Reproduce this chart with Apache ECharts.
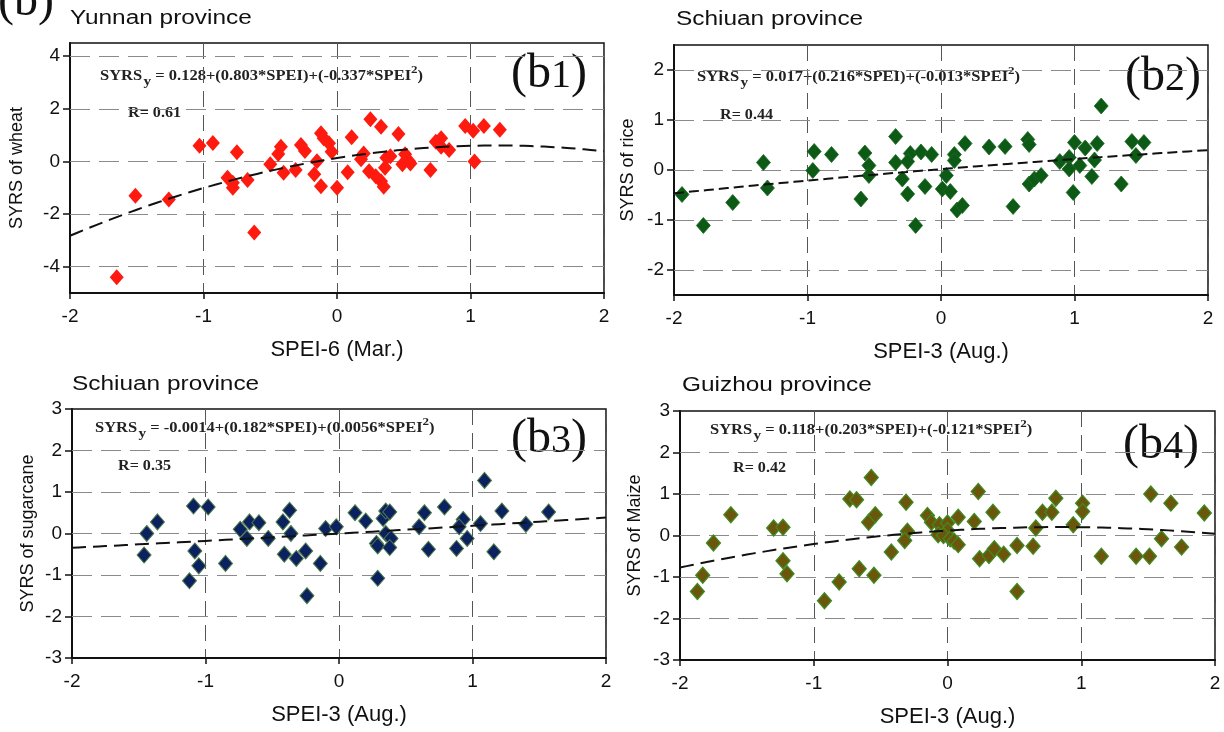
<!DOCTYPE html>
<html>
<head>
<meta charset="utf-8">
<script src="https://cdn.jsdelivr.net/npm/echarts@6/dist/echarts.min.js"></script>
<style>
  html, body { margin: 0; padding: 0; background: #fff; }
  #chart { width: 1224px; height: 732px; }
</style>
</head>
<body>
<div id="chart"></div>
<script>
// ---- Data: standardized yield residual series (SYRS) against SPEI ----
const wheatPoints = [
  [-1.65,-4.4],[-1.51,-1.3],[-1.26,-1.45],[-1.03,0.6],[-0.93,0.7],[-0.82,-0.62],[-0.78,-0.81],[-0.78,-1.0],
  [-0.75,0.35],[-0.67,-0.71],[-0.62,-2.7],[-0.50,-0.11],[-0.44,0.28],[-0.42,0.56],[-0.40,-0.43],[-0.31,-0.33],
  [-0.27,0.62],[-0.24,0.40],[-0.17,-0.49],[-0.15,0.01],[-0.12,1.07],[-0.12,-0.94],[-0.10,0.88],[-0.06,0.69],
  [-0.04,0.37],[0.00,-1.0],[0.08,-0.41],[0.11,0.92],[0.18,0.08],[0.20,0.3],[0.24,-0.37],[0.25,1.6],
  [0.29,-0.56],[0.33,1.32],[0.33,-0.75],[0.35,-0.96],[0.36,-0.24],[0.37,0.14],[0.40,0.2],[0.46,1.04],
  [0.49,-0.11],[0.51,0.27],[0.54,0.01],[0.55,-0.08],[0.70,-0.33],[0.74,0.75],[0.78,0.88],[0.78,0.56],
  [0.84,0.43],[0.96,1.35],[1.02,1.17],[1.03,0.0],[1.10,1.35],[1.22,1.2]
];
const ricePoints = [
  [1.20,1.28],[-0.34,0.67],[0.18,0.53],[0.36,0.46],[0.48,0.47],[0.65,0.61],[0.66,0.51],[1.00,0.55],
  [1.08,0.44],[1.17,0.53],[1.43,0.57],[1.52,0.55],[-0.95,0.37],[-0.82,0.31],[-0.57,0.34],[-0.23,0.33],
  [-0.15,0.36],[-0.07,0.31],[0.10,0.31],[-1.33,0.15],[-1.94,-0.49],[-1.78,-1.11],[-1.56,-0.65],[-1.30,-0.36],
  [-0.96,-0.01],[-0.60,-0.58],[-0.54,0.09],[-0.54,-0.11],[-0.34,0.15],[-0.29,-0.18],[-0.25,-0.48],[-0.25,0.17],
  [-0.19,-1.11],[-0.12,-0.33],[0.01,-0.38],[0.04,-0.11],[0.07,-0.43],[0.10,0.19],[0.12,-0.80],[0.16,-0.71],
  [0.54,-0.73],[0.66,-0.28],[0.70,-0.18],[0.75,-0.11],[0.89,0.17],[0.96,0.25],[0.96,0.02],[0.99,-0.45],
  [1.04,0.09],[1.13,-0.13],[1.15,0.20],[1.35,-0.28],[1.46,0.29]
];
const sugarcanePoints = [
  [1.09,1.28],[-1.09,0.66],[-0.98,0.64],[-1.36,0.28],[-1.44,0.0],[-0.74,0.1],[-0.67,0.28],[-0.60,0.26],
  [-0.69,-0.12],[-0.53,-0.12],[-0.42,0.28],[-0.37,0.56],[-0.36,0.0],[-0.10,0.12],[-0.02,0.16],[0.12,0.50],
  [0.20,0.30],[0.33,0.36],[0.35,0.54],[0.38,0.52],[0.28,-0.24],[0.35,0.0],[0.39,-0.12],[0.60,0.16],
  [0.64,0.50],[0.79,0.64],[0.93,0.34],[0.90,0.16],[0.96,-0.12],[1.06,0.24],[1.22,0.54],[1.40,0.22],
  [1.57,0.52],[-1.46,-0.52],[-1.12,-1.14],[-1.08,-0.42],[-1.05,-0.78],[-0.85,-0.72],[-0.41,-0.5],[-0.32,-0.6],
  [-0.25,-0.42],[-0.24,-1.5],[-0.14,-0.72],[0.29,-0.30],[0.29,-1.08],[0.38,-0.34],[0.67,-0.38],[0.88,-0.36],
  [1.16,-0.44]
];
const maizePoints = [
  [-0.57,1.4],[-0.73,0.88],[-0.68,0.86],[-0.31,0.8],[0.23,1.06],[0.81,0.9],[1.01,0.78],[1.01,0.58],
  [1.52,1.0],[1.67,0.78],[1.92,0.54],[0.34,0.56],[0.71,0.56],[0.78,0.56],[-1.62,0.5],[-0.59,0.32],
  [-0.54,0.5],[-0.15,0.48],[-0.12,0.32],[-0.06,0.26],[0.0,0.3],[0.08,0.44],[0.2,0.34],[-1.30,0.18],
  [-1.23,0.2],[-0.3,0.1],[0.0,0.12],[0.66,0.18],[0.94,0.26],[-1.75,-0.18],[1.60,-0.08],[-1.87,-1.35],
  [-1.83,-0.96],[-1.23,-0.61],[-1.20,-0.92],[-0.92,-1.57],[-0.81,-1.12],[-0.66,-0.8],[-0.55,-0.96],[-0.42,-0.4],
  [-0.32,-0.12],[-0.07,0.02],[-0.03,0.0],[0.02,-0.08],[0.05,-0.14],[0.08,-0.22],[0.24,-0.56],[0.31,-0.48],
  [0.35,-0.32],[0.42,-0.45],[0.52,-1.35],[0.52,-0.24],[0.64,-0.26],[1.15,-0.5],[1.41,-0.5],[1.51,-0.5],
  [1.75,-0.28]
];

// Quadratic fit coefficients (intercept, linear, quadratic) as printed, and R
const wheatFit = ['0.128', '0.803', '-0.337'];
const riceFit = ['0.017', '0.216', '-0.013'];
const sugarcaneFit = ['-0.0014', '0.182', '0.0056'];
const maizeFit = ['0.118', '0.203', '-0.121'];
const rValues = ['0.61', '0.44', '0.35', '0.42'];

// Axis ranges and tick labels
const xTicks = [-2, -1, 0, 1, 2];
const wheatYTicks = [-4, -2, 0, 2, 4];
const riceYTicks = [-2, -1, 0, 1, 2];
const cropYTicks = [-3, -2, -1, 0, 1, 2, 3];
const yRanges = [[-5, 4.5], [-2.5, 2.5], [-3, 3], [-3, 3]];

const provinces = ['Yunnan province', 'Schiuan province', 'Schiuan province', 'Guizhou province'];
const xNames = ['SPEI-6 (Mar.)', 'SPEI-3 (Aug.)', 'SPEI-3 (Aug.)', 'SPEI-3 (Aug.)'];
const yNames = ['SYRS of wheat', 'SYRS of rice', 'SYRS of sugarcane', 'SYRS of Maize'];
const panelTags = ['1', '2', '3', '4'];

// ---- Layout and style per panel ----
const panels = [
  { pts: wheatPoints, fit: wheatFit, yTicks: wheatYTicks,
    grid: { left: 70, top: 43, width: 534, height: 250 },
    color: '#ff1a10', border: '#ff1a10', borderWidth: 0, yGap: 44, dash: [14, 7],
    title: [70, 20], eq: [100, 76], r: [128, 114], tag: [587, 76] },
  { pts: ricePoints, fit: riceFit, yTicks: riceYTicks,
    grid: { left: 674, top: 45, width: 534, height: 250 },
    color: '#0d5a17', border: '#1c6a22', borderWidth: 0.8, yGap: 37, dash: [10, 5],
    title: [676, 21], eq: [697, 77], r: [720, 116], tag: [1201, 79] },
  { pts: sugarcanePoints, fit: sugarcaneFit, yTicks: cropYTicks,
    grid: { left: 72, top: 409, width: 534, height: 249 },
    color: '#0c2160', border: '#4e7a48', borderWidth: 1, yGap: 35, dash: [14, 7],
    title: [72, 386], eq: [95, 428], r: [118, 467], tag: [587, 441] },
  { pts: maizePoints, fit: maizeFit, yTicks: cropYTicks,
    grid: { left: 680, top: 411, width: 535, height: 249 },
    color: '#6c560c', border: '#3f8a22', borderWidth: 1.3, yGap: 36, dash: [14, 7],
    title: [682, 387], eq: [710, 430], r: [733, 469], tag: [1199, 447] }
];

const SANS = 'Liberation Sans, Arial, sans-serif';
const SERIF = 'Liberation Serif, Times New Roman, serif';

// Curve drawn from the printed equation over the x range
function fitCurve(coefs) {
  const a = parseFloat(coefs[0]), b = parseFloat(coefs[1]), c = parseFloat(coefs[2]);
  const out = [];
  for (let i = 0; i <= 80; i++) {
    const x = xTicks[0] + (xTicks[xTicks.length - 1] - xTicks[0]) * i / 80;
    out.push([x, a + b * x + c * x * x]);
  }
  return out;
}

const grids = [], xAxes = [], yAxes = [], series = [], graphics = [];

panels.forEach((p, i) => {
  grids.push(Object.assign({ show: true, borderColor: '#111', borderWidth: 1.5, backgroundColor: 'transparent' }, p.grid));
  xAxes.push({
    type: 'value', gridIndex: i, min: xTicks[0], max: xTicks[xTicks.length - 1], interval: 1,
    name: xNames[i], nameLocation: 'middle', nameGap: 46,
    nameTextStyle: { fontFamily: SANS, fontSize: 22, color: '#111' },
    axisLine: { show: true, onZero: false, lineStyle: { color: '#111', width: 2 } },
    axisTick: { show: true, inside: false, length: 6, lineStyle: { color: '#111', width: 1.5 } },
    axisLabel: { fontFamily: SANS, fontSize: 19, color: '#111', margin: 14 },
    splitLine: { show: true, lineStyle: { color: '#555', width: 1, type: [16, 8] } }
  });
  yAxes.push({
    type: 'value', gridIndex: i, min: yRanges[i][0], max: yRanges[i][1],
    name: yNames[i], nameLocation: 'middle', nameGap: p.yGap, nameRotate: 90,
    nameTextStyle: { fontFamily: SANS, fontSize: 18, color: '#111' },
    axisLine: { show: true, onZero: false, lineStyle: { color: '#111', width: 2 } },
    axisTick: { show: true, inside: false, length: 7, customValues: p.yTicks, lineStyle: { color: '#111', width: 1.5 } },
    axisLabel: { fontFamily: SANS, fontSize: 19, color: '#111', margin: 10, customValues: p.yTicks },
    splitLine: { show: false }
  });
  // horizontal dashed gridlines at interior tick values
  const inner = p.yTicks.filter(v => v > yRanges[i][0] && v < yRanges[i][1]);
  series.push({
    type: 'scatter', xAxisIndex: i, yAxisIndex: i, data: p.pts, z: 3,
    symbol: 'diamond', symbolSize: [14, 16],
    itemStyle: { color: p.color, borderColor: p.border, borderWidth: p.borderWidth, opacity: 1 },
    markLine: {
      silent: true, symbol: 'none', z: 1, animation: false,
      label: { show: false },
      lineStyle: { color: '#8a8a8a', width: 1.2, type: [20, 9] },
      data: inner.map(v => ({ yAxis: v }))
    }
  });
  series.push({
    type: 'line', xAxisIndex: i, yAxisIndex: i, data: fitCurve(p.fit), z: 4,
    showSymbol: false, smooth: false,
    lineStyle: { color: '#111', width: 2, type: p.dash }
  });

  // Titles, equations and panel tags
  graphics.push({
    type: 'text', x: p.title[0], y: p.title[1] - 12, scaleX: 1.22,
    style: { text: provinces[i], font: '20px ' + SANS, fill: '#111' }
  });
  const f = p.fit;
  graphics.push({
    type: 'text', x: p.eq[0], y: p.eq[1] - 11, scaleX: 1.18,
    style: {
      text: '{m|SYRS}{s|y}{m| = ' + f[0] + '+(' + f[1] + '*SPEI)+(' + f[2] + '*SPEI}{p|2}{m|)}',
      rich: {
        m: { fontFamily: SERIF, fontSize: 14, fill: '#222', fontWeight: 'bold', lineHeight: 22 },
        s: { fontFamily: SERIF, fontSize: 13, fill: '#222', fontWeight: 'bold', padding: [11, 0, 0, 1], lineHeight: 22 },
        p: { fontFamily: SERIF, fontSize: 11, fill: '#222', fontWeight: 'bold', padding: [0, 0, 11, 0], lineHeight: 22 }
      }
    }
  });
  graphics.push({
    type: 'text', x: p.r[0], y: p.r[1] - 8, scaleX: 1.15,
    style: { text: 'R= ' + rValues[i], font: 'bold 14px ' + SERIF, fill: '#222' }
  });
  graphics.push({
    type: 'text', right: 1224 - p.tag[0], top: p.tag[1] - 26,
    style: {
      text: '{b|(b}{d|' + panelTags[i] + '}{b|)}',
      rich: {
        b: { fontFamily: SERIF, fontSize: 48, fill: '#111', lineHeight: 52 },
        d: { fontFamily: SERIF, fontSize: 40, fill: '#111', lineHeight: 52, padding: [4, 0, 0, 0] }
      }
    }
  });
});

// Figure part label, partly clipped at the top edge
graphics.push({
  type: 'text', left: -2, top: -22,
  style: { text: '(b)', font: '48px ' + SERIF, fill: '#111' }
});

const chart = echarts.init(document.getElementById('chart'), null, { renderer: 'canvas' });
chart.setOption({
  animation: false,
  backgroundColor: '#ffffff',
  grid: grids,
  xAxis: xAxes,
  yAxis: yAxes,
  series: series,
  graphic: graphics
});
</script>
</body>
</html>
